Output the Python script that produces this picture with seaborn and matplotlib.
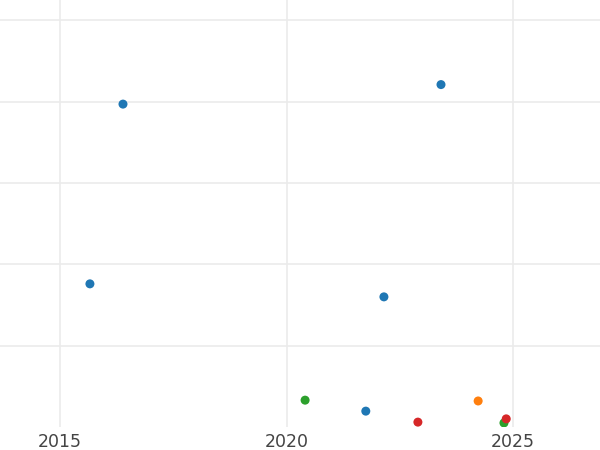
import pandas as pd
import matplotlib
matplotlib.use("Agg")
import matplotlib.pyplot as plt
import seaborn as sns

# values
years = [2016.39, 2023.41, 2015.66, 2022.15, 2021.75, 2020.41, 2024.80, 2024.23, 2022.90, 2024.85]
values = [79.4, 84.2, 35.2, 32.0, 3.9, 6.6, 1.0, 6.4, 1.2, 2.0]
groups = ["A", "A", "A", "A", "A", "C", "C", "B", "D", "D"]
group_order = ["A", "B", "C", "D"]
colors = ["#1f77b4", "#ff7f0e", "#2ca02c", "#d62728"]
x_ticks = [2015, 2020, 2025]
y_ticks = [20, 40, 60, 80, 100]


def main():
    df = pd.DataFrame({"year": years, "value": values, "group": groups})

    sns.set_style("white")
    fig = plt.figure(figsize=(6, 4.5), dpi=100)
    ax = fig.add_axes([0, 23 / 450, 1, 427 / 450])

    sns.scatterplot(
        data=df, x="year", y="value", hue="group", hue_order=group_order,
        palette=colors, s=42, linewidth=0, legend=False, ax=ax, zorder=3
    )

    ax.set_xlim(2013.675, 2026.92)
    ax.set_ylim(0, 105)
    ax.set_xticks(x_ticks)
    ax.set_yticks(y_ticks)
    ax.set_yticklabels([])
    ax.grid(True, color="#ebebeb", linewidth=1.2)
    ax.set_axisbelow(True)
    ax.tick_params(axis="both", length=0, pad=4)
    ax.tick_params(axis="x", labelsize=12.5, labelcolor="#444444")
    ax.set_xlabel("")
    ax.set_ylabel("")
    for s in ax.spines.values():
        s.set_visible(False)

    fig.savefig("out.png", dpi=100)
    plt.close(fig)


if __name__ == "__main__":
    main()
